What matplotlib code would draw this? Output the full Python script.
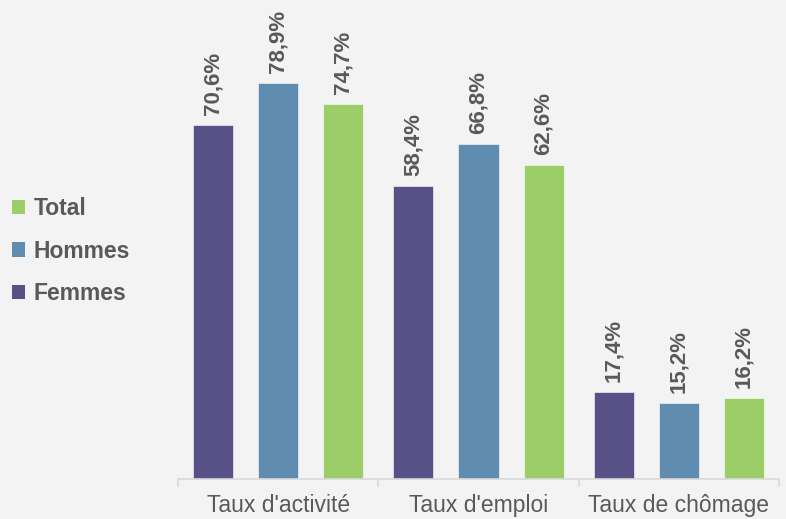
import numpy as np
import matplotlib
matplotlib.use("Agg")
from matplotlib import pyplot as plt
from matplotlib.patches import Patch

categories = ["Taux d'activité", "Taux d'emploi", "Taux de chômage"]
series_names = ["Femmes", "Hommes", "Total"]
femmes = [70.6, 58.4, 17.4]
hommes = [78.9, 66.8, 15.2]
total = [74.7, 62.6, 16.2]

colors = ["#575187", "#5f8caf", "#9bcd68"]
bg = "#f3f3f3"
txt = "#595959"

plt.rcParams['font.family'] = ['Liberation Sans', 'DejaVu Sans']

fig = plt.figure(figsize=(7.86, 5.19), dpi=100, facecolor=bg)
ax = fig.add_axes([0.2265, 0.0771, 0.7645, 0.9229], facecolor=bg)

x = np.arange(len(categories))
width = 0.2
offsets = [-0.325, 0.0, 0.325]
for vals, off, col, name in zip([femmes, hommes, total], offsets, colors, series_names):
    ax.bar(x + off, vals, width, color=col, edgecolor="#ffffff", linewidth=0.4, label=name)
    for xi, v in zip(x + off, vals):
        ax.annotate(f"{v:.1f}%".replace(".", ","), (xi, v), xytext=(0, 7),
                    textcoords="offset points", rotation=90, ha="center", va="bottom",
                    fontsize=16, fontweight="bold", color=txt)

ax.set_xlim(-0.5, 2.5)
ax.set_ylim(0, 95.4)
ax.set_yticks([])
for s in ["top", "right", "left"]:
    ax.spines[s].set_visible(False)
ax.spines["bottom"].set_color("#d9d9d9")
ax.spines["bottom"].set_linewidth(1.2)

ax.set_xticks([-0.5, 0.5, 1.5, 2.5])
ax.set_xticklabels([])
ax.set_xticks(x, minor=True)
ax.set_xticklabels(categories, minor=True, fontsize=16.5, color=txt)
ax.tick_params(axis="x", which="major", length=6, width=1.2, color="#d9d9d9")
ax.tick_params(axis="x", which="minor", length=0, pad=11)

handles = [Patch(facecolor=c) for c in colors][::-1]
fig.legend(handles, series_names[::-1], loc="center left", bbox_to_anchor=(-0.011, 0.516),
           frameon=False, handlelength=0.58, handleheight=0.58, handletextpad=0.35,
           labelspacing=0.84, prop={"size": 16.5, "weight": "bold"}, labelcolor=txt)

fig.savefig("out.png", dpi=100, facecolor=bg)
